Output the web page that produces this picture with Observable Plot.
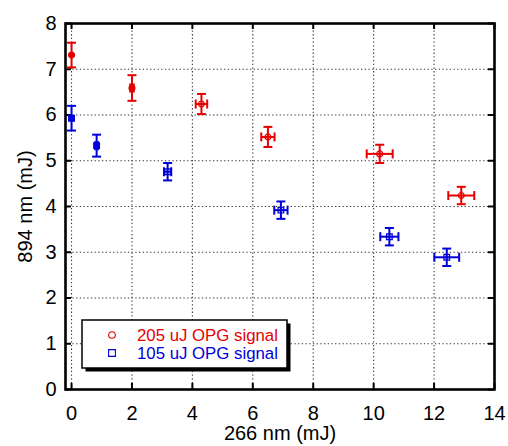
<!DOCTYPE html>
<html>
<head>
<meta charset="utf-8">
<script src="https://cdn.jsdelivr.net/npm/d3@7"></script>
<script src="https://cdn.jsdelivr.net/npm/@observablehq/plot@0.6"></script>
<style>
  html, body { margin: 0; padding: 0; background: white; }
</style>
</head>
<body>
<div id="chart"></div>
<script>
// ---- data ----
const xTicks = [0, 2, 4, 6, 8, 10, 12, 14];
const yTicks = [0, 1, 2, 3, 4, 5, 6, 7, 8];

const seriesNames = ["205 uJ OPG signal", "105 uJ OPG signal"];
const seriesColors = ["#e60000", "#0000d8"];
const seriesSymbols = ["circle", "square"];

const redX    = [0, 2.0, 4.3, 6.5, 10.2, 12.9];
const redY    = [7.31, 6.59, 6.24, 5.52, 5.15, 4.24];
const redXErr = [0, 0.06, 0.19, 0.22, 0.43, 0.43];
const redYErr = [0.27, 0.28, 0.22, 0.22, 0.20, 0.19];
const redFilled = [true, false, false, false, false, false];

const blueX    = [0, 0.83, 3.18, 6.93, 10.52, 12.42];
const blueY    = [5.93, 5.33, 4.76, 3.92, 3.34, 2.89];
const blueXErr = [0, 0.05, 0.12, 0.22, 0.30, 0.41];
const blueYErr = [0.27, 0.24, 0.19, 0.19, 0.19, 0.19];
const blueFilled = [true, true, false, false, false, false];

// ---- build table ----
function rows(xs, ys, exs, eys, filled, s) {
  return xs.map((x, i) => ({x, y: ys[i], ex: exs[i], ey: eys[i], filled: filled[i], s}));
}
const data = [
  ...rows(redX, redY, redXErr, redYErr, redFilled, 0),
  ...rows(blueX, blueY, blueXErr, blueYErr, blueFilled, 1)
];
const xErrData = data.filter(d => d.ex > 0);

const W = 508, H = 446;
const mL = 65, mR = 14, mT = 23, mB = 57;
const plotW = W - mL - mR, plotH = H - mT - mB;

const hcap = {draw(ctx) { ctx.moveTo(-4.5, 0); ctx.lineTo(4.5, 0); }};
const vcap = {draw(ctx) { ctx.moveTo(0, -4.5); ctx.lineTo(0, 4.5); }};
const col = d => seriesColors[d.s];

const gridStyle = {stroke: "#333", strokeOpacity: 1, strokeWidth: 1.1, strokeDasharray: "1.3,2.4"};

const plot = Plot.plot({
  width: W, height: H,
  marginLeft: mL, marginRight: mR, marginTop: mT, marginBottom: mB,
  style: {fontFamily: "'Liberation Sans', Arial, Helvetica, sans-serif", fontSize: "20px", background: "white", color: "black"},
  x: {domain: [-0.2, 14]},
  y: {domain: [0, 8]},
  marks: [
    Plot.gridX(xTicks, gridStyle),
    Plot.gridY(yTicks, gridStyle),
    // inward ticks on all four sides
    Plot.tickX(xTicks, {x: d => d, insetTop: plotH - 6, strokeWidth: 2, stroke: "black"}),
    Plot.tickX(xTicks, {x: d => d, insetBottom: plotH - 6, strokeWidth: 2, stroke: "black"}),
    Plot.tickY(yTicks, {y: d => d, insetRight: plotW - 6, strokeWidth: 2, stroke: "black"}),
    Plot.tickY(yTicks, {y: d => d, insetLeft: plotW - 6, strokeWidth: 2, stroke: "black"}),
    Plot.axisX(xTicks, {tickSize: 0, tickPadding: 16, label: "266 nm (mJ)", labelAnchor: "center", labelArrow: "none", labelOffset: 50, fill: "black"}),
    Plot.axisY(yTicks, {tickSize: 0, tickPadding: 9, label: "894 nm (mJ)", labelAnchor: "center", labelArrow: "none", labelOffset: 48, fill: "black"}),
    // error bars
    Plot.ruleX(data, {x: "x", y1: d => d.y - d.ey, y2: d => d.y + d.ey, stroke: col, strokeWidth: 2}),
    Plot.dot(data, {x: "x", y: d => d.y - d.ey, symbol: hcap, stroke: col, strokeWidth: 2}),
    Plot.dot(data, {x: "x", y: d => d.y + d.ey, symbol: hcap, stroke: col, strokeWidth: 2}),
    Plot.ruleY(xErrData, {y: "y", x1: d => d.x - d.ex, x2: d => d.x + d.ex, stroke: col, strokeWidth: 2}),
    Plot.dot(xErrData, {x: d => d.x - d.ex, y: "y", symbol: vcap, stroke: col, strokeWidth: 2}),
    Plot.dot(xErrData, {x: d => d.x + d.ex, y: "y", symbol: vcap, stroke: col, strokeWidth: 2}),
    // markers
    Plot.dot(data, {x: "x", y: "y", symbol: d => seriesSymbols[d.s], r: d => d.s === 0 ? 4 : 4.6,
      stroke: col, fill: col, fillOpacity: d => d.filled ? 1 : 0.2, strokeWidth: 1.2}),
    Plot.frame({stroke: "black", strokeWidth: 2.6})
  ]
});

// ---- legend (inside the plot area) ----
const svg = d3.select(plot);
const lx = mL + 17, ly = mT + 297, lw = 205, lh = 48;
const lg = svg.append("g").attr("font-family", "'Liberation Sans', Arial, Helvetica, sans-serif").attr("text-anchor", "start");
lg.append("rect").attr("x", lx + 3.5).attr("y", ly + 3.5).attr("width", lw).attr("height", lh).attr("fill", "black");
lg.append("rect").attr("x", lx).attr("y", ly).attr("width", lw).attr("height", lh).attr("fill", "white").attr("stroke", "black").attr("stroke-width", 1.5);
seriesNames.forEach((name, i) => {
  const cy = ly + 15 + i * 18;
  const sym = d3.symbol(i === 0 ? d3.symbolCircle : d3.symbolSquare, i === 0 ? 34 : 46)();
  lg.append("path").attr("d", sym).attr("transform", `translate(${lx + 30},${cy})`)
    .attr("fill", "none").attr("stroke", seriesColors[i]).attr("stroke-width", 1.1);
  lg.append("text").attr("x", lx + 55).attr("y", cy).attr("dy", "0.36em").attr("text-anchor", "start")
    .attr("font-size", "16.8px").attr("fill", seriesColors[i]).text(name);
});

document.getElementById("chart").appendChild(plot);
</script>
</body>
</html>
